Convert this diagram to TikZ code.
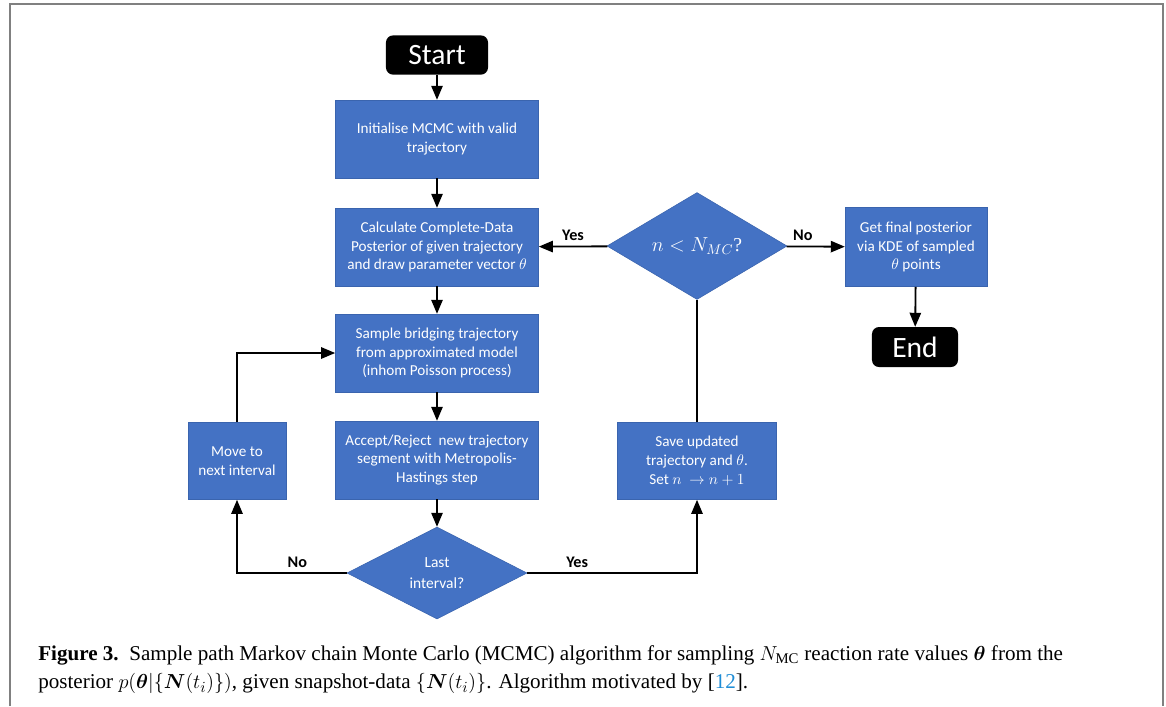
\documentclass[tikz,border=0pt]{standalone}
\usepackage{amsmath}
\usepackage{amssymb}
\usepackage{fontspec}
\setmainfont{Liberation Serif}
\newfontfamily\boxfont{Carlito}
\usepackage{xcolor}
\usetikzlibrary{arrows.meta,arrows,shapes.geometric}
\definecolor{boxblue}{HTML}{4472C4}
\definecolor{boxedge}{HTML}{3A64AE}
\definecolor{framegray}{HTML}{808080}
\definecolor{linkblue}{HTML}{1F8DD6}

\begin{document}
\begin{tikzpicture}[x=0.025cm,y=-0.025cm,>=triangle 45,
  proc/.style={draw=boxedge,fill=boxblue,text=white,align=center,inner sep=2pt,font=\boxfont\fontsize{10.8}{13.4}\selectfont},
  term/.style={fill=black,rounded corners=5pt,text=white,inner sep=0pt,font=\boxfont\fontsize{21}{24}\selectfont},
  decide/.style={diamond,draw=boxedge,fill=boxblue,text=white,align=center,inner sep=0pt,minimum width=4.5cm,minimum height=2.3cm},
  flow/.style={->,line width=1.3pt},
  answer/.style={font=\boxfont\bfseries\fontsize{11.5}{13}\selectfont}]
\useasboundingbox (0,0) rectangle (1166,706);
\draw[framegray,line width=1.5pt] (10,706) -- (10,4) -- (1163,4) -- (1163,706);

% main column
\node[term,minimum width=2.55cm,minimum height=0.98cm] (start) at (437,55) {Start};
\node[proc,minimum width=5.08cm,minimum height=1.95cm] (init) at (437,139) {Initialise MCMC with valid\\trajectory};
\node[proc,minimum width=5.08cm,minimum height=1.95cm] (post) at (437,247) {Calculate Complete-Data\\Posterior of given trajectory\\and draw parameter vector $\theta$};
\node[proc,minimum width=5.08cm,minimum height=1.95cm] (bridge) at (437,353) {Sample bridging trajectory\\from approximated model\\(inhom Poisson process)};
\node[proc,minimum width=5.08cm,minimum height=1.95cm] (mh) at (437,460) {Accept/Reject\ \ new trajectory\\segment with Metropolis-\\Hastings step};
\node[decide,font=\boxfont\fontsize{11}{15}\selectfont] (last) at (437,573) {Last\\interval?};

% side boxes
\node[proc,minimum width=2.45cm,minimum height=1.93cm] (next) at (237,461) {Move to\\next interval};
\node[proc,minimum width=3.98cm,minimum height=1.93cm] (save) at (697,461) {Save updated\\trajectory and $\theta$.\\Set $n\ \to n+1$};
\node[decide,font=\fontsize{14}{16}\selectfont] (count) at (697,246) {$n<N_{MC}$?};
\node[proc,minimum width=3.55cm,minimum height=1.98cm] (kde) at (916,247) {Get final posterior\\via KDE of sampled\\$\theta$ points};
\node[term,minimum width=2.15cm,minimum height=1cm] (end) at (915,347) {End};

% connectors
\draw[flow] (start) -- (init);
\draw[flow] (init) -- (post);
\draw[flow] (post) -- (bridge);
\draw[flow] (bridge) -- (mh);
\draw[flow] (mh) -- (last);
\draw[flow] (last.west) -| node[answer,pos=0.225,above]{No} (next.south);
\draw[flow] (next.north) |- (bridge.west);
\draw[flow] (last.east) -| node[answer,pos=0.147,above]{Yes} (save.south);
\draw[line width=1.3pt] (save) -- (count);
\draw[flow] (count) -- node[answer,above]{Yes} (post);
\draw[flow] (count) -- node[answer,pos=0.28,above]{No} (kde);
\draw[flow] (kde) -- (end);

\node[anchor=north west,align=left,inner sep=0pt,font=\fontsize{15}{20.5}\selectfont] (caption) at (38,645)
  {\textbf{Figure 3.}\ \ Sample path Markov chain Monte Carlo (MCMC) algorithm for sampling $N_{\mathrm{MC}}$ reaction rate values $\boldsymbol{\theta}$ from the\\
   posterior $p(\boldsymbol{\theta}|\{\boldsymbol{N}(t_i)\})$, given snapshot-data $\{\boldsymbol{N}(t_i)\}$. Algorithm motivated by [\textcolor{linkblue}{12}].};
\end{tikzpicture}
\end{document}
